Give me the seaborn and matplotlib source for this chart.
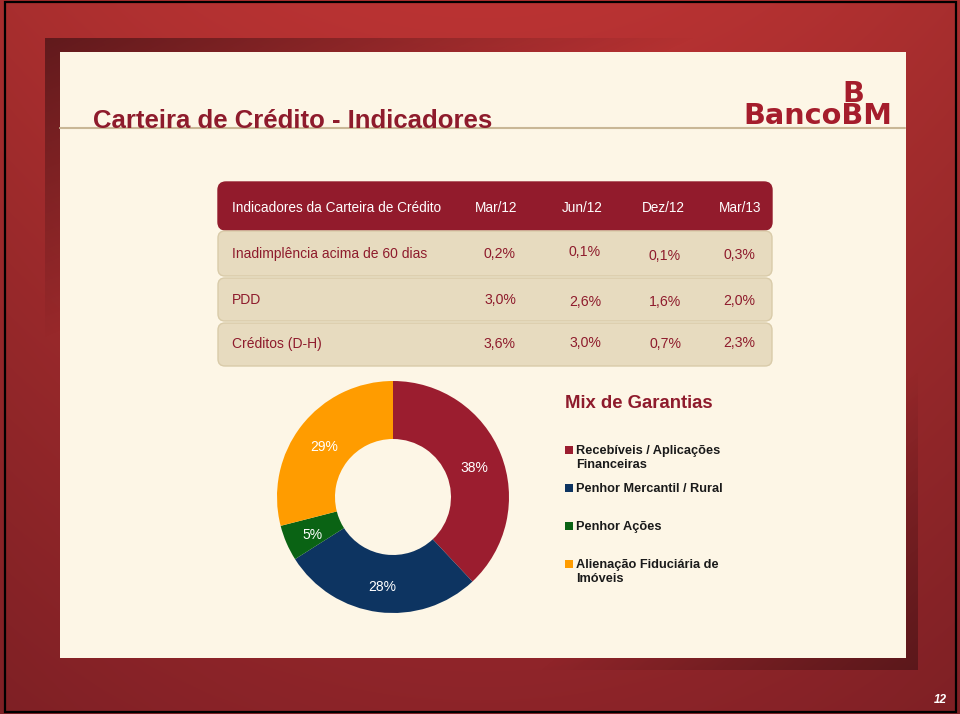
import numpy as np
import matplotlib
matplotlib.use("Agg")
import matplotlib.pyplot as plt
from matplotlib.patches import FancyBboxPatch, Rectangle
import seaborn as sns

sns.set_theme(style="white")
plt.rcParams['font.family'] = ['Liberation Sans', 'DejaVu Sans']

# ---------------- data ----------------
title = "Carteira de Crédito - Indicadores"
table_header = "Indicadores da Carteira de Crédito"
periods = ["Mar/12", "Jun/12", "Dez/12", "Mar/13"]
indicators = ["Inadimplência acima de 60 dias", "PDD", "Créditos (D-H)"]
inadimplencia = [0.2, 0.1, 0.1, 0.3]
pdd = [3.0, 2.6, 1.6, 2.0]
creditos_dh = [3.6, 3.0, 0.7, 2.3]

mix_title = "Mix de Garantias"
mix_labels = ["Recebíveis / Aplicações\nFinanceiras", "Penhor Mercantil / Rural",
              "Penhor Ações", "Alienação Fiduciária de\nImóveis"]
mix_values = [38, 28, 5, 29]
mix_colors = ["#9b1d2f", "#0d3461", "#0a6314", "#ff9c00"]
logo_lines = ["          B", "BancoBM"]
page_number = "12"

MAROON = "#8e1b2c"
W, H = 960, 714

fig = plt.figure(figsize=(W / 100, H / 100), dpi=100)
bg = fig.add_axes([0, 0, 1, 1])
bg.set_xlim(0, W)
bg.set_ylim(H, 0)
bg.axis("off")

# red background gradient
yy, xx = np.mgrid[0:H, 0:W]
t = yy / H
edge = np.abs(xx - W / 2) / (W / 2)
top = np.array([0.73, 0.20, 0.20])
bot = np.array([0.55, 0.14, 0.16])
img = (top[None, None, :] * (1 - t[..., None]) + bot[None, None, :] * t[..., None])
img = img * (1 - 0.10 * edge[..., None] ** 2)
bg.imshow(img, extent=(0, W, H, 0), zorder=0, aspect="auto")

# dark frame shadow
fx0, fy0, fx1, fy1 = 45, 38, 918, 670
fh, fw = fy1 - fy0, fx1 - fx0
gy, gx = np.mgrid[0:fh, 0:fw]
a_tl = np.clip(1 - gx / 650 - gy / 300, 0, 1)
a_br = np.clip(1 - (fw - gx) / 380 - (fh - gy) / 300, 0, 1)
alpha = np.maximum(a_tl, a_br) * 0.85
shadow = np.zeros((fh, fw, 4))
shadow[..., 0] = 0.33
shadow[..., 1] = 0.09
shadow[..., 2] = 0.10
shadow[..., 3] = alpha
bg.imshow(shadow, extent=(fx0, fx1, fy1, fy0), zorder=1, aspect="auto")

# cream panel
bg.add_patch(Rectangle((60, 52), 846, 606, facecolor="#fdf6e6", edgecolor="none", zorder=2))
bg.plot([60, 905], [128, 128], color="#c9b796", lw=1.5, zorder=3)

# outer black border
bg.add_patch(Rectangle((5, 1.5), 951, 710, facecolor="none", edgecolor="black", lw=1.6, zorder=10))

# title
bg.text(93, 128, title, color=MAROON, fontsize=18.5, fontweight="bold", va="baseline", ha="left", zorder=4)

# logo (single text, two lines)
bg.text(743, 124, "\n".join(logo_lines), color="#a51d2c", fontsize=20.7, fontweight="bold",
        va="baseline", ha="left", multialignment="left", linespacing=0.74,
        family="DejaVu Sans", zorder=4)

# table
row_tops = [182, 230, 277, 322]
row_bots = [230, 277, 322, 367]
head_x = [496, 582, 663, 740]
col_x = [500, 585, 665, 739]
label_base = [258, 304, 348]
value_base = [[258, 256, 260, 259], [304, 306, 306, 305], [348, 347, 348, 347]]
x0, x1 = 218, 772
# header
bg.add_patch(FancyBboxPatch((x0, row_tops[0]), x1 - x0, row_bots[0] - row_tops[0],
                            boxstyle="round,pad=0,rounding_size=8", facecolor="#921b2c",
                            edgecolor="#921b2c", lw=1, zorder=3))
bg.text(232, 212, table_header, color="white", fontsize=9.8, va="baseline", ha="left", zorder=4)
for p, hx in zip(periods, head_x):
    bg.text(hx, 212, p, color="white", fontsize=9.8, va="baseline", ha="center", zorder=4)

rows = [inadimplencia, pdd, creditos_dh]
for i, (name, vals) in enumerate(zip(indicators, rows)):
    ty, by = row_tops[i + 1], row_bots[i + 1]
    bg.add_patch(FancyBboxPatch((x0, ty + 1), x1 - x0, by - ty - 2,
                                boxstyle="round,pad=0,rounding_size=7", facecolor="#e7dbbf",
                                edgecolor="#d9cba9", lw=1, zorder=3))
    bg.text(232, label_base[i], name, color=MAROON, fontsize=10, va="baseline", ha="left", zorder=4)
    for j, (v, cxv) in enumerate(zip(vals, col_x)):
        bg.text(cxv, value_base[i][j], f"{v:.1f}%".replace(".", ","), color=MAROON, fontsize=10.2,
                va="baseline", ha="center", zorder=4)

# donut
cx, cy, r = 393, 497, 116
pie_ax = fig.add_axes([(cx - r) / W, 1 - (cy + r) / H, 2 * r / W, 2 * r / H])
pie_ax.set_facecolor("none")
wedges, texts, autotexts = pie_ax.pie(
    mix_values, colors=mix_colors, startangle=90, counterclock=False,
    wedgeprops=dict(width=0.5, edgecolor="none"),
    autopct=lambda p: f"{p:.0f}%", pctdistance=0.755,
    textprops=dict(color="white", fontsize=10))
for at in autotexts:
    x_, y_ = at.get_position()
    at.set_position((x_, y_ - 0.03))
pie_ax.set_aspect("equal")
pie_ax.set_xlim(-1, 1)
pie_ax.set_ylim(-1, 1)

# legend
bg.text(565, 404, mix_title, color=MAROON, fontsize=13.3, fontweight="bold", va="center", ha="left", zorder=4)
leg_y = [450, 488, 526, 564]
for lab, col, ly in zip(mix_labels, mix_colors, leg_y):
    bg.add_patch(Rectangle((565, ly - 4), 7.5, 7.5, facecolor=col, edgecolor="none", zorder=4))
    bg.text(576, ly - 5, lab, color="#1a1a1a", fontsize=9.2, fontweight="bold", va="top",
            ha="left", linespacing=1.17, zorder=4)

bg.text(947, 700, page_number, color="white", fontsize=8.5, fontstyle="italic", fontweight="bold",
        va="center", ha="right", zorder=4)

fig.savefig("out.png", dpi=100)
